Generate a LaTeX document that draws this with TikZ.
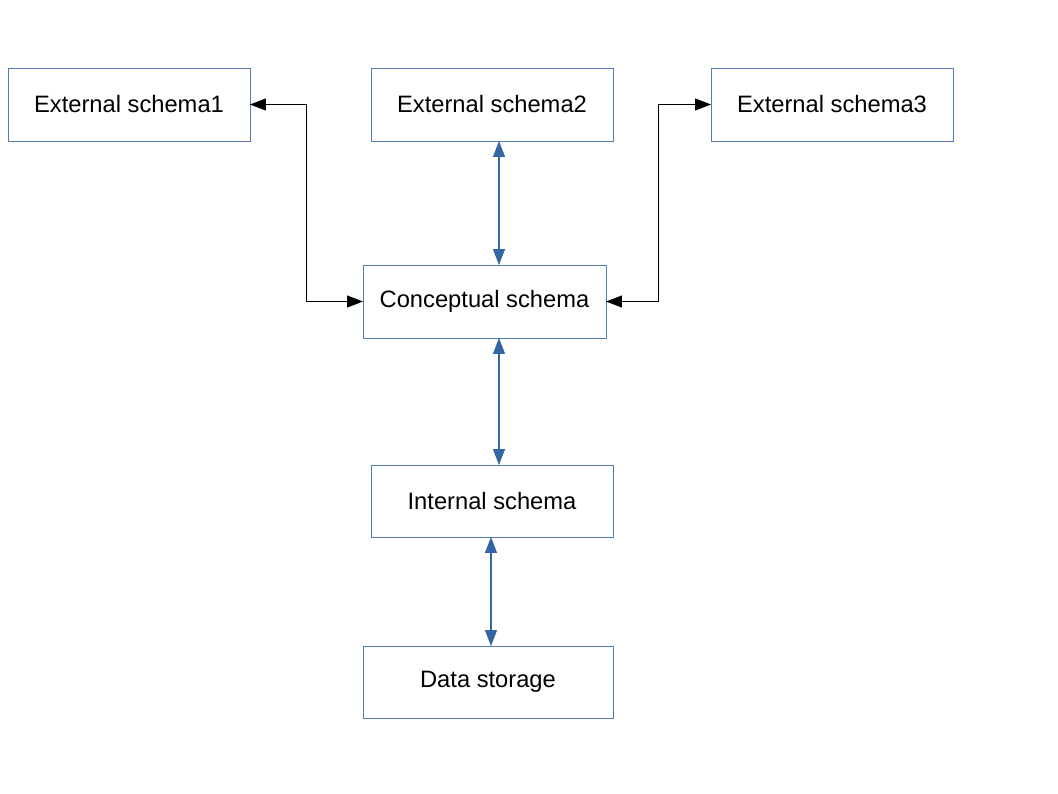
\documentclass[tikz,border=0pt]{standalone}
\usepackage{fontspec}
\setmainfont{Liberation Sans}
\usetikzlibrary{arrows.meta,positioning,calc}
\definecolor{schemablue}{RGB}{52,101,164}

\tikzset{
  schema/.style={draw=schemablue!85, line width=0.45pt, minimum width=4.84cm, minimum height=1.46cm,
    inner sep=0pt, outer sep=0pt, font=\fontsize{13.5}{16}\selectfont},
  blacklink/.style={draw=black, line width=0.6pt, {Triangle[length=0.32cm,width=0.24cm]}-{Triangle[length=0.32cm,width=0.24cm]}},
  bluelink/.style={draw=schemablue, line width=0.6pt, {Triangle[length=0.32cm,width=0.24cm]}-{Triangle[length=0.32cm,width=0.24cm]}}
}

\begin{document}
\begin{tikzpicture}[x=0.02cm,y=-0.02cm]
    \useasboundingbox (0,0) rectangle (1058,794);

    % three external views
    \node[schema] (es1) at (129,104.5) {External schema1};
    \node[schema] (es2) at (492,104.5) {External schema2};
    \node[schema] (es3) at (832,104.5) {External schema3};

    \node[schema, minimum width=4.86cm] (cs) at (484.5,301.5) {Conceptual schema};
    \node[schema, minimum height=1.44cm] (is) at (492,501) {Internal schema};
    \node[schema, minimum width=5cm, minimum height=1.44cm] (ds) at (488,682) {Data storage};

    % mappings
    \draw[blacklink] (es1.east) -| ($(es1.east)!.5!(cs.west)$) |- (cs.west);
    \draw[blacklink] (es3.west) -| ($(es3.west)!.5!(cs.east)$) |- (cs.east);

    \draw[bluelink] ([xshift=0.14cm]es2.south) -- ([xshift=0.14cm]es2.south |- cs.north);
    \draw[bluelink] ([xshift=0.29cm]cs.south) -- ([xshift=0.29cm]cs.south |- is.north);
    \draw[bluelink] ([xshift=-0.02cm]is.south) -- ([xshift=-0.02cm]is.south |- ds.north);

  \end{tikzpicture}
\end{document}
